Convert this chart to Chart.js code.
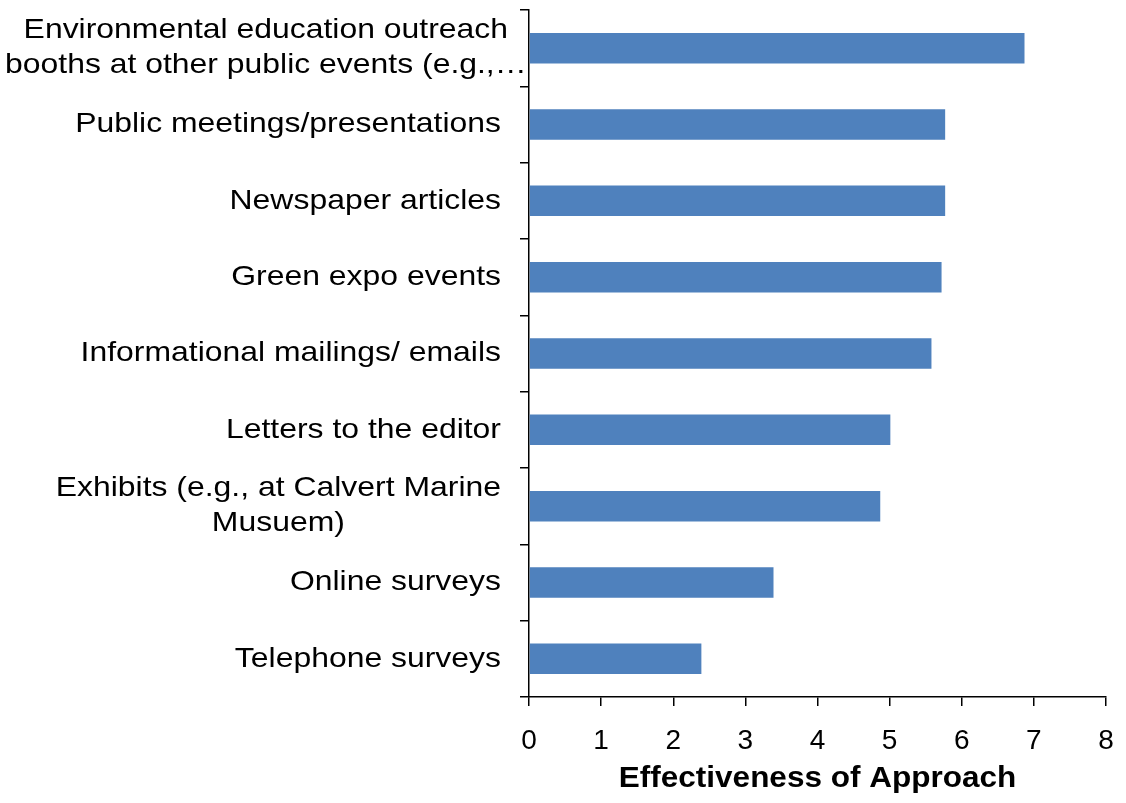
<!DOCTYPE html>
<html>
<head>
<meta charset="utf-8">
<title>Effectiveness of Approach</title>
<script src="https://cdn.jsdelivr.net/npm/chart.js@4"></script>
<style>
  html, body { margin: 0; padding: 0; background: #fff; }
  #wrap { width: 1126px; height: 803px; position: relative; }
</style>
</head>
<body>
<div id="wrap"><canvas id="chart"></canvas></div>
<script>
// Outreach approaches, top to bottom
const approaches = [
  ['Environmental education outreach', 'booths at other public events (e.g.,\u2026'],
  ['Public meetings/presentations'],
  ['Newspaper articles'],
  ['Green expo events'],
  ['Informational mailings/ emails'],
  ['Letters to the editor'],
  ['Exhibits (e.g., at Calvert Marine', 'Musuem)'],
  ['Online surveys'],
  ['Telephone surveys']
];
const effectiveness = [6.87, 5.77, 5.77, 5.72, 5.58, 5.01, 4.87, 3.39, 2.39];
const xTicks = [0, 1, 2, 3, 4, 5, 6, 7, 8];
const xTitle = 'Effectiveness of Approach';

const FONT = 'Liberation Sans, Arial, sans-serif';

// draws one line of text squeezed/stretched horizontally around (x, y)
function wideText(ctx, text, x, y, sx) {
  ctx.save();
  ctx.translate(x, y);
  ctx.scale(sx, 1);
  ctx.fillText(text, 0, 0);
  ctx.restore();
}

// Category labels (right-aligned blocks, lines centred on each other) and the x title
const textLayer = {
  id: 'textLayer',
  afterDraw(chart) {
    const ctx = chart.ctx;
    const y = chart.scales.y;
    const x = chart.scales.x;
    const sx = 1.14;
    const lineH = 35;
    ctx.save();
    ctx.fillStyle = '#000';
    ctx.textAlign = 'center';
    ctx.textBaseline = 'middle';
    ctx.font = '28px ' + FONT;
    approaches.forEach((lines, i) => {
      const w = Math.max(...lines.map(l => ctx.measureText(l).width)) * sx;
      const cx = Math.max(501 - w / 2, 5 + w / 2);
      const cy = y.getPixelForValue(i);
      lines.forEach((l, k) => {
        wideText(ctx, l, cx, cy + (k - (lines.length - 1) / 2) * lineH, sx);
      });
    });

    ctx.font = 'bold 30px ' + FONT;
    ctx.textBaseline = 'alphabetic';
    wideText(ctx, xTitle, (x.left + x.right) / 2, 787, 1.05);
    ctx.restore();
  }
};

new Chart(document.getElementById('chart'), {
  type: 'bar',
  data: {
    labels: approaches.map(a => a.join(' ')),
    datasets: [{
      data: effectiveness,
      backgroundColor: '#4F81BD',
      barPercentage: 0.4,
      categoryPercentage: 1
    }]
  },
  options: {
    indexAxis: 'y',
    responsive: true,
    maintainAspectRatio: false,
    animation: false,
    layout: { padding: { top: 10, right: 20, left: 0, bottom: 0 } },
    plugins: { legend: { display: false }, tooltip: { enabled: false } },
    scales: {
      y: {
        afterFit: s => { s.width = 529; },
        ticks: { display: false },
        grid: {
          drawOnChartArea: false,
          drawTicks: true,
          tickLength: 9,
          color: '#000',
          lineWidth: 1.5
        },
        border: { color: '#000', width: 1.5 }
      },
      x: {
        min: 0,
        max: 8,
        afterFit: s => {
          s.height = 106;
          s.paddingLeft = 0;
          s.paddingRight = 0;
        },
        afterBuildTicks: s => { s.ticks = xTicks.map(v => ({ value: v })); },
        ticks: {
          color: '#000',
          font: { family: FONT, size: 28 },
          padding: 18
        },
        grid: {
          drawOnChartArea: false,
          drawTicks: true,
          tickLength: 9,
          color: '#000',
          lineWidth: 1.5
        },
        border: { color: '#000', width: 1.5 }
      }
    }
  },
  plugins: [textLayer]
});
</script>
</body>
</html>
